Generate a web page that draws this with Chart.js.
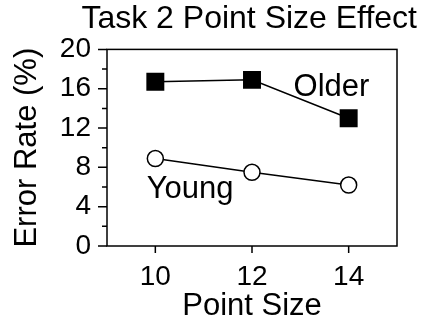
<!DOCTYPE html>
<html>
<head>
<meta charset="utf-8">
<script src="https://cdn.jsdelivr.net/npm/chart.js@4"></script>
<style>
  html, body { margin: 0; padding: 0; background: #fff; }
</style>
</head>
<body>
<canvas id="chart" width="425" height="329"></canvas>
<script>
const pointSizes = [10, 12, 14];
const olderRates = [16.7, 16.9, 13.0];
const youngRates = [8.9, 7.5, 6.2];
const xTicks = [10, 12, 14];
const yTicks = [0, 4, 8, 12, 16, 20];
const yMinorTicks = [2, 6, 10, 14, 18];

const FONT = '"Liberation Sans", Arial, Helvetica, sans-serif';

// frame, outward ticks and the series labels
const decorations = {
    id: 'decorations',
    beforeDatasetsDraw(chart) {
        const {ctx, chartArea: a, scales: {x, y}} = chart;
        ctx.save();
        ctx.strokeStyle = '#000';
        ctx.lineWidth = 1.5;
        ctx.strokeRect(a.left, a.top, a.right - a.left, a.bottom - a.top);
        ctx.beginPath();
        yTicks.forEach(v => {
            const py = y.getPixelForValue(v);
            ctx.moveTo(a.left - 9, py); ctx.lineTo(a.left, py);
        });
        yMinorTicks.forEach(v => {
            const py = y.getPixelForValue(v);
            ctx.moveTo(a.left - 5, py); ctx.lineTo(a.left, py);
        });
        xTicks.forEach(v => {
            const px = x.getPixelForValue(v);
            ctx.moveTo(px, a.bottom); ctx.lineTo(px, a.bottom + 7);
        });
        ctx.stroke();
        ctx.restore();
    },
    afterDatasetsDraw(chart) {
        const {ctx, scales: {x, y}} = chart;
        ctx.save();
        ctx.fillStyle = '#000';
        ctx.font = '31px ' + FONT;
        ctx.textBaseline = 'alphabetic';
        ctx.textAlign = 'left';
        ctx.fillText(chart.data.datasets[0].label, x.getPixelForValue(12.86), y.getPixelForValue(15.3));
        ctx.fillText(chart.data.datasets[1].label, x.getPixelForValue(9.82), y.getPixelForValue(4.9));
        ctx.restore();
    }
};

new Chart(document.getElementById('chart').getContext('2d'), {
    type: 'line',
    data: {
        datasets: [{
            label: 'Older',
            data: pointSizes.map((p, i) => ({x: p, y: olderRates[i]})),
            borderColor: '#000',
            borderWidth: 1.5,
            pointStyle: 'rect',
            pointRadius: 12.7,
            pointBackgroundColor: '#000',
            pointBorderColor: '#000',
            pointBorderWidth: 0
        }, {
            label: 'Young',
            data: pointSizes.map((p, i) => ({x: p, y: youngRates[i]})),
            borderColor: '#000',
            borderWidth: 1.5,
            pointStyle: 'circle',
            pointRadius: 8,
            pointBackgroundColor: '#fff',
            pointBorderColor: '#000',
            pointBorderWidth: 1.5
        }]
    },
    options: {
        responsive: false,
        animation: false,
        devicePixelRatio: 1,
        layout: {padding: {right: 8}},
        plugins: {
            legend: {display: false},
            tooltip: {enabled: false},
            title: {
                display: true,
                text: 'Task 2 Point Size Effect',
                align: 'end',
                color: '#000',
                font: {family: FONT, size: 32, weight: 'normal'},
                padding: {top: 0, bottom: 11}
            }
        },
        scales: {
            x: {
                type: 'linear',
                min: 9, max: 15,
                afterBuildTicks: s => { s.ticks = xTicks.map(v => ({value: v})); },
                afterFit: s => { s.height = 83; },
                grid: {display: false},
                border: {display: false},
                ticks: {color: '#000', font: {family: FONT, size: 28}, padding: 6},
                title: {
                    display: true, text: 'Point Size', color: '#000',
                    font: {family: FONT, size: 31}, padding: {top: 0, bottom: 4}
                }
            },
            y: {
                min: 0, max: 20,
                afterBuildTicks: s => { s.ticks = yTicks.map(v => ({value: v})); },
                afterFit: s => { s.width = 107; },
                grid: {display: false},
                border: {display: false},
                ticks: {color: '#000', font: {family: FONT, size: 28}, padding: 8},
                title: {
                    display: true, text: 'Error Rate (%)', color: '#000',
                    font: {family: FONT, size: 31}, padding: {top: 9, bottom: 0}
                }
            },
            yRight: {
                axis: 'y',
                position: 'right',
                min: 0, max: 20,
                afterFit: s => { s.width = 20; },
                grid: {display: false},
                border: {display: false},
                ticks: {display: false}
            }
        }
    },
    plugins: [decorations]
});
</script>
</body>
</html>
